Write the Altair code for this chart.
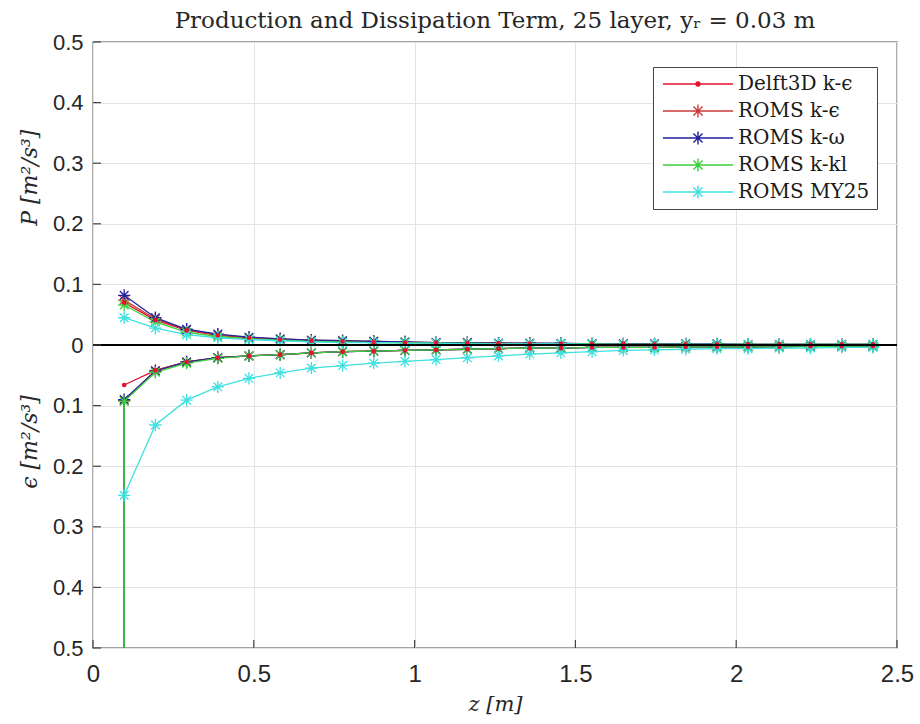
import altair as alt
import pandas as pd

# ---- data ---------------------------------------------------------------
# layer-centre heights above the bed [m]
z = [0.097, 0.194, 0.291, 0.388, 0.485, 0.582, 0.679, 0.776, 0.873, 0.970,
     1.067, 1.164, 1.261, 1.358, 1.455, 1.552, 1.649, 1.746, 1.843, 1.940,
     2.037, 2.134, 2.231, 2.328, 2.425]

series_names = ["Delft3D k-ϵ", "ROMS k-ϵ", "ROMS k-ω", "ROMS k-kl", "ROMS MY25"]
series_colors = ["#e3122f", "#cc3a3a", "#22229e", "#3ccf3c", "#3fe0e0"]

# production P [m^2/s^3]
prod_delft = [0.070, 0.041, 0.024, 0.016, 0.012, 0.009, 0.007, 0.006, 0.005, 0.004,
              0.004, 0.003, 0.003, 0.002, 0.002, 0.002, 0.002, 0.001, 0.001, 0.001,
              0.001, 0.001, 0.001, 0.001, 0.001]
prod_keps = [0.074, 0.043, 0.025, 0.017, 0.012, 0.010, 0.008, 0.007, 0.006, 0.005,
             0.004, 0.004, 0.003, 0.003, 0.002, 0.002, 0.002, 0.002, 0.001, 0.001,
             0.001, 0.001, 0.001, 0.001, 0.001]
prod_kw = [0.082, 0.045, 0.026, 0.018, 0.013, 0.010, 0.008, 0.007, 0.006, 0.005,
           0.004, 0.004, 0.003, 0.003, 0.003, 0.002, 0.002, 0.002, 0.002, 0.002,
           0.001, 0.001, 0.001, 0.001, 0.001]
prod_kkl = [0.066, 0.038, 0.021, 0.014, 0.010, 0.008, 0.006, 0.005, 0.004, 0.004,
            0.003, 0.003, 0.002, 0.002, 0.002, 0.002, 0.001, 0.001, 0.001, 0.001,
            0.001, 0.001, 0.001, 0.001, 0.001]
prod_my25 = [0.045, 0.028, 0.017, 0.012, 0.009, 0.007, 0.005, 0.004, 0.004, 0.003,
             0.003, 0.002, 0.002, 0.002, 0.002, 0.001, 0.001, 0.001, 0.001, 0.001,
             0.001, 0.001, 0.001, 0.001, 0.001]

# dissipation epsilon [m^2/s^3] (plotted downward)
eps_delft = [0.066, 0.042, 0.028, 0.021, 0.018, 0.016, 0.013, 0.011, 0.010, 0.009,
             0.008, 0.007, 0.006, 0.005, 0.005, 0.004, 0.004, 0.004, 0.003, 0.003,
             0.003, 0.003, 0.002, 0.002, 0.002]
eps_keps = [0.092, 0.042, 0.028, 0.021, 0.018, 0.016, 0.013, 0.011, 0.010, 0.009,
            0.008, 0.007, 0.006, 0.005, 0.005, 0.004, 0.004, 0.004, 0.003, 0.003,
            0.003, 0.003, 0.002, 0.002, 0.002]
eps_kw = [0.090, 0.043, 0.028, 0.021, 0.018, 0.016, 0.013, 0.011, 0.010, 0.009,
          0.008, 0.007, 0.006, 0.005, 0.005, 0.004, 0.004, 0.004, 0.003, 0.003,
          0.003, 0.003, 0.002, 0.002, 0.002]
eps_kkl = [0.093, 0.045, 0.030, 0.022, 0.018, 0.016, 0.013, 0.011, 0.010, 0.009,
           0.008, 0.007, 0.006, 0.005, 0.005, 0.004, 0.004, 0.004, 0.003, 0.003,
           0.003, 0.003, 0.003, 0.002, 0.002]
eps_my25 = [0.248, 0.132, 0.091, 0.069, 0.055, 0.046, 0.038, 0.034, 0.030, 0.027,
            0.024, 0.021, 0.018, 0.015, 0.013, 0.011, 0.009, 0.008, 0.007, 0.006,
            0.006, 0.005, 0.005, 0.004, 0.004]

# near-bed dissipation of the two-equation ROMS closures (off the axis range)
eps_bed = {"ROMS k-ϵ": 0.9, "ROMS k-ω": 0.9, "ROMS k-kl": 0.9}

prod = [prod_delft, prod_keps, prod_kw, prod_kkl, prod_my25]
eps = [eps_delft, eps_keps, eps_kw, eps_kkl, eps_my25]

x_ticks = [0, 0.5, 1, 1.5, 2, 2.5]
y_ticks = [-0.5, -0.4, -0.3, -0.2, -0.1, 0, 0.1, 0.2, 0.3, 0.4, 0.5]

y_titles = ["P [m²/s³]", "ϵ [m²/s³]"]
y_title_pos = [0.276, -0.16]

SERIF = "DejaVu Serif"

# ---- long table ---------------------------------------------------------
rows = []
for name, p_vals, e_vals in zip(series_names, prod, eps):
    for i, (zz, v) in enumerate(zip(z, p_vals)):
        rows.append({"series": name, "part": "P", "z": zz, "val": v, "ord": i, "marker": True})
    if name in eps_bed:
        rows.append({"series": name, "part": "eps", "z": z[0], "val": -eps_bed[name],
                     "ord": -1, "marker": False})
    for i, (zz, v) in enumerate(zip(z, e_vals)):
        rows.append({"series": name, "part": "eps", "z": zz, "val": -v, "ord": i, "marker": True})
df = pd.DataFrame(rows)

# ---- symbols ------------------------------------------------------------
STAR = "M0,-1V1M-1,0H1M-0.7,-0.7L0.7,0.7M-0.7,0.7L0.7,-0.7"
LEG_STAR = "M-5.4,0H5.4" + STAR
LEG_DOT = "M-5.4,0H5.4M-0.3,0A0.3,0.3 0 1,0 0.3,0A0.3,0.3 0 1,0 -0.3,0"
legend_shapes = [LEG_DOT, LEG_STAR, LEG_STAR, LEG_STAR, LEG_STAR]

color_scale = alt.Scale(domain=series_names, range=series_colors)
shape_scale = alt.Scale(domain=series_names, range=legend_shapes)
x_scale = alt.Scale(domain=[0, 2.5], nice=False, zero=False)
y_scale = alt.Scale(domain=[-0.5, 0.5], nice=False)

x_axis = alt.Axis(values=x_ticks, format="~g", title="z [m]",
                  grid=True, gridColor="#e3e3e3", domain=False, ticks=False,
                  labelFont="Liberation Sans", labelFontSize=24, labelColor="#262626",
                  labelPadding=14, labelFlush=False,
                  titleFont=SERIF, titleFontStyle="italic",
                  titleFontWeight="normal", titleFontSize=21,
                  titleColor="#262626", titlePadding=7)
y_axis = alt.Axis(values=y_ticks,
                  labelExpr="format(abs(datum.value), '~g')",
                  title=None, grid=True, gridColor="#e3e3e3",
                  domain=False, ticks=False,
                  labelFont="Liberation Sans", labelFontSize=22, labelColor="#262626",
                  labelPadding=10)


def xq(field):
    return alt.X(field, type="quantitative", scale=x_scale, axis=x_axis)


def yq(field):
    return alt.Y(field, type="quantitative", scale=y_scale, axis=y_axis)


series_color = alt.Color("series:N", scale=color_scale, legend=alt.Legend(title=None))

base = alt.Chart(df)

# legend entries: one line+marker glyph per model (no marks of its own)
legend_layer = base.transform_filter("false").mark_point(
    filled=False, strokeWidth=1.4
).encode(
    x=xq("z"), y=yq("val"),
    color=series_color,
    shape=alt.Shape("series:N", scale=shape_scale, legend=alt.Legend(title=None)),
)

lines = base.mark_line(strokeWidth=1.3, clip=True).encode(
    x=xq("z"), y=yq("val"), color=series_color,
    detail="part:N", order="ord:Q",
)

stars = base.transform_filter(
    "datum.marker && datum.series != 'Delft3D k-ϵ'"
).mark_point(shape=STAR, filled=False, size=150, strokeWidth=1.3, clip=True, opacity=1).encode(
    x=xq("z"), y=yq("val"), color=series_color,
)

dots = base.transform_filter(
    "datum.marker && datum.series == 'Delft3D k-ϵ'"
).mark_point(shape="circle", filled=True, size=22, clip=True, opacity=1).encode(
    x=xq("z"), y=yq("val"), color=series_color,
)

zero_line = alt.Chart(pd.DataFrame({"v": [0]})).mark_rule(color="black", strokeWidth=2.2).encode(
    y=yq("v"),
)

y_tick_marks = alt.Chart(pd.DataFrame({"v": y_ticks})).mark_rule(
    color="#444444", strokeWidth=1.2
).encode(
    y=yq("v"), x=alt.value(0), x2=alt.value(8),
)

x_tick_marks = alt.Chart(pd.DataFrame({"v": x_ticks})).mark_rule(
    color="#444444", strokeWidth=1.2
).encode(
    x=xq("v"), y=alt.value(606), y2=alt.value(598),
)

y_title_layer = alt.Chart(pd.DataFrame({"label": y_titles, "pos": y_title_pos})).mark_text(
    angle=270, font=SERIF, fontStyle="italic", fontSize=22,
    color="#262626", baseline="middle", align="center"
).encode(
    y=yq("pos"), x=alt.value(-63), text="label:N",
)

chart = alt.layer(
    legend_layer, lines, stars, dots, zero_line, y_tick_marks, x_tick_marks, y_title_layer
).properties(
    width=804, height=606,
    autosize=alt.AutoSizeParams(type="none"),
    padding={"left": 93, "top": 42, "right": 23, "bottom": 76},
    title=alt.TitleParams("Production and Dissipation Term, 25 layer, yᵣ = 0.03 m",
                          font=SERIF, fontSize=23, fontWeight="normal",
                          color="#262626", offset=-20, anchor="middle",
                          baseline="alphabetic"),
    background="white",
).configure_view(
    stroke="#4a4a4a", strokeWidth=1.3
).configure_legend(
    orient="none", legendX=560, legendY=25,
    padding=7, rowPadding=7,
    strokeColor="#444444", fillColor="white",
    symbolSize=169, symbolStrokeWidth=1.4, symbolOpacity=1,
    symbolOffset=28, labelOffset=30,
    labelFont=SERIF, labelFontSize=20,
    labelColor="#1a1a1a", labelLimit=300,
)

chart.save("out.html", embed_options={"renderer": "svg", "actions": False})
